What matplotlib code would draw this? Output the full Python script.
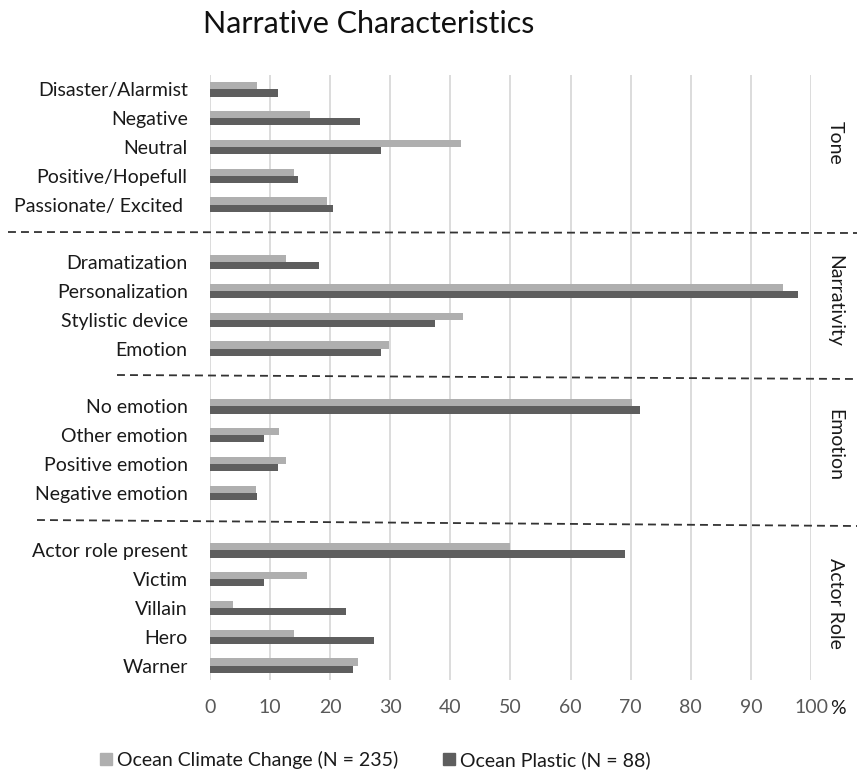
import matplotlib.pyplot as plt
from matplotlib.lines import Line2D
from matplotlib.patches import Patch
from matplotlib.transforms import blended_transform_factory

plt.rcParams['font.family'] = ['Lato', 'DejaVu Sans']

# groups of narrative characteristics, top to bottom
groups = ["Tone", "Narrativity", "Emotion", "Actor Role"]
categories = [
    ["Disaster/Alarmist", "Negative", "Neutral", "Positive/Hopefull", "Passionate/ Excited "],
    ["Dramatization", "Personalization", "Stylistic device", "Emotion"],
    ["No emotion", "Other emotion", "Positive emotion", "Negative emotion"],
    ["Actor role present", "Victim", "Villain", "Hero", "Warner"],
]
climate = [
    [7.9, 16.6, 41.7, 14.0, 19.5],
    [12.7, 95.3, 42.1, 29.8],
    [70.2, 11.5, 12.7, 7.6],
    [50.0, 16.1, 3.8, 14.0, 24.7],
]
plastic = [
    [11.4, 24.9, 28.4, 14.7, 20.4],
    [18.1, 97.8, 37.5, 28.4],
    [71.6, 9.0, 11.3, 7.9],
    [69.0, 9.0, 22.7, 27.3, 23.8],
]
series_names = ["Ocean Climate Change (N = 235)", "Ocean Plastic (N = 88)"]
xticks = [0, 10, 20, 30, 40, 50, 60, 70, 80, 90, 100]

c_light = "#AFAFAF"
c_dark = "#5E5E5E"
fs = 14

W, H = 857, 773
fig = plt.figure(figsize=(W / 100, H / 100), dpi=100)
ax = fig.add_axes([0.245, 0.1203, 0.7013, 0.7827])

# one slot per category, with an empty slot between groups
pos, labels, v1, v2, centers = [], [], [], [], []
slot = 0
for cats, a, b in zip(categories, climate, plastic):
    start = slot
    for c, x1, x2 in zip(cats, a, b):
        pos.append(slot)
        labels.append(c)
        v1.append(x1)
        v2.append(x2)
        slot += 1
    centers.append((start + slot - 1) / 2)
    slot += 1
n_slots = slot - 1

h = 0.25
ax.barh([p - h / 2 for p in pos], v1, height=h, color=c_light, zorder=3)
ax.barh([p + h / 2 for p in pos], v2, height=h, color=c_dark, zorder=3)

ax.set_ylim(n_slots - 0.5, -0.5)
ax.set_xlim(0, 100)
ax.set_yticks(pos)
ax.set_yticklabels(labels, fontsize=fs, color="#1A1A1A")
ax.set_xticks(xticks)
ax.set_xticklabels([str(t) for t in xticks], fontsize=fs, color="#595959")
ax.tick_params(axis="y", length=0, pad=16)
ax.tick_params(axis="x", length=0, pad=14)
ax.grid(axis="x", color="#D9D9D9", linewidth=1.3, zorder=0)
for s in ax.spines.values():
    s.set_visible(False)

# group names on the right
tr = blended_transform_factory(ax.transAxes, ax.transData)
for g, yc in zip(groups, centers):
    ax.text(1.04, yc - 0.15, g, transform=tr, rotation=270, ha="center", va="center",
            fontsize=fs, color="#1A1A1A")

# dashed separators between groups
seps = [((8, 232), (857, 233)), ((117, 375), (857, 379)), ((37, 520), (857, 526))]
for (x0, y0), (x1, y1) in seps:
    fig.add_artist(Line2D([x0 / W, x1 / W], [1 - y0 / H, 1 - y1 / H],
                          transform=fig.transFigure, color="#333333",
                          linewidth=1.3, dashes=(4.4, 2.8)))

fig.text(838 / W, 1 - 709 / H, "%", fontsize=fs, color="#1A1A1A", ha="center", va="center")

fig.text(369 / W, 1 - 24 / H, "Narrative Characteristics", fontsize=22,
         ha="center", va="center", color="#111111")

handles = [Patch(color=c_light), Patch(color=c_dark)]
fig.legend(handles, series_names, loc="center left", bbox_to_anchor=(100 / W, 1 - 760 / H),
           ncol=2, frameon=False, fontsize=fs, handlelength=0.62, handleheight=0.62,
           handletextpad=0.26, columnspacing=2.27, borderpad=0, borderaxespad=0,
           labelcolor="#1A1A1A")

fig.savefig("out.png", dpi=100)
